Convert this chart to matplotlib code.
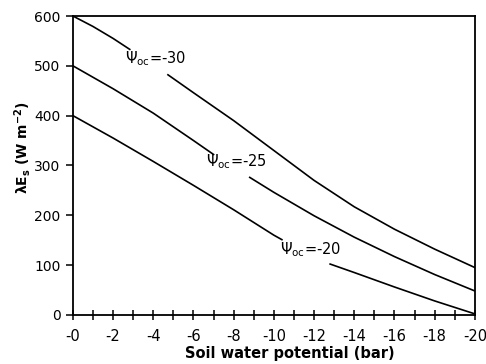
import matplotlib
matplotlib.use("Agg")
import matplotlib.pyplot as plt
from matplotlib.ticker import MultipleLocator, FuncFormatter

plt.rcParams['font.family'] = ['DejaVu Sans']
plt.rcParams['mathtext.fontset'] = 'dejavusans'

# Soil water potential (bar) and latent heat flux (W m-2), each curve in two segments (gap for label)
psi30_x_a = [0, -1, -2, -2.83]
psi30_y_a = [600, 579, 555, 533]
psi30_x_b = [-4.73, -6, -8, -10, -12, -14, -16, -18, -20]
psi30_y_b = [482, 446, 390, 330, 270, 217, 172, 132, 95]

psi25_x_a = [0, -2, -4, -6, -7.0]
psi25_y_a = [500, 454, 405, 350, 322]
psi25_x_b = [-8.8, -10, -12, -14, -16, -18, -20]
psi25_y_b = [276, 246, 199, 156, 117, 81, 48]

psi20_x_a = [0, -2, -4, -6, -8, -10, -10.4]
psi20_y_a = [400, 355, 308, 260, 211, 160, 151]
psi20_x_b = [-12.8, -14, -16, -18, -20]
psi20_y_b = [102, 85, 56, 28, 2]

labels = [r'$\Psi_{\mathrm{oc}}$=-30', r'$\Psi_{\mathrm{oc}}$=-25', r'$\Psi_{\mathrm{oc}}$=-20']
label_x = [-2.6, -6.6, -10.3]
label_y = [515, 308, 130]

fig = plt.figure(figsize=(4.86, 3.64), dpi=100)
ax = fig.add_axes([0.150, 0.135, 0.827, 0.821])

lw = 1.2
for xs, ys in [(psi30_x_a, psi30_y_a), (psi30_x_b, psi30_y_b),
               (psi25_x_a, psi25_y_a), (psi25_x_b, psi25_y_b),
               (psi20_x_a, psi20_y_a), (psi20_x_b, psi20_y_b)]:
    ax.plot(xs, ys, color='black', lw=lw)

for t, x, y in zip(labels, label_x, label_y):
    ax.text(x, y, t, fontsize=10.5, ha='left', va='center', color='black')

ax.set_xlim(0, -20)
ax.set_ylim(0, 600)
ax.xaxis.set_major_locator(MultipleLocator(2))
ax.xaxis.set_minor_locator(MultipleLocator(1))
ax.yaxis.set_major_locator(MultipleLocator(100))
ax.xaxis.set_major_formatter(FuncFormatter(lambda v, p: '-%d' % abs(round(v))))

ax.tick_params(axis='x', which='both', direction='inout', length=7, width=1.1,
               labelsize=10.5, pad=7)
ax.tick_params(axis='y', which='major', direction='out', length=5, width=1.1,
               labelsize=10, pad=4)
for s in ax.spines.values():
    s.set_linewidth(1.3)

ax.set_xlabel('Soil water potential (bar)', fontsize=10.5, fontweight='bold')
ax.xaxis.set_label_coords(0.54, -0.105)
ax.set_ylabel(r'$\mathbf{\lambda E_{s}}$ (W m$^{\mathbf{-2}}$)', fontsize=10, fontweight='bold')
ax.yaxis.set_label_coords(-0.10, 0.56)

fig.savefig('out.png', dpi=100)
